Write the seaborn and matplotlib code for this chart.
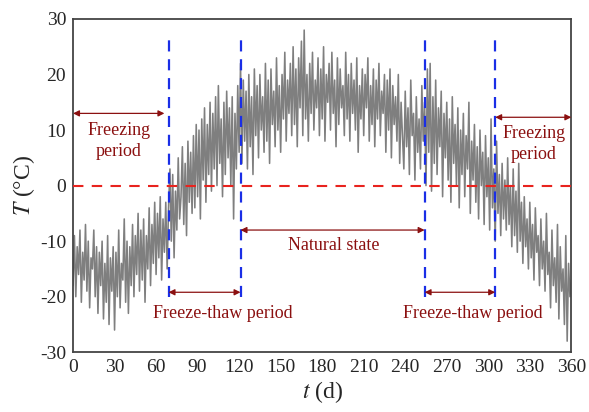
import matplotlib
matplotlib.use("Agg")
import matplotlib.pyplot as plt
import seaborn as sns
import pandas as pd

# daily ground temperature readings (deg C), day 0 .. 360
temp = [
    -18, -9, -20, -11, -16, -8, -21, -12, -17, -7,
    -19, -10, -22, -13, -15, -8, -20, -11, -23, -12,
    -18, -10, -24, -14, -21, -9, -25, -13, -19, -11,
    -26, -12, -20, -8, -22, -14, -17, -6, -21, -10,
    -23, -11, -18, -7, -20, -9, -16, -5, -19, -8,
    -17, -6, -21, -9, -15, -4, -18, -7, -14, -3,
    -16, -5, -13, -2, -17, -6, -12, -3, -15, -4,
    3, -10, 2, -13, -1, -8, 5, -6, -2, 7,
    -7, 4, -9, 8, -3, 6, -5, 9, -4, 11,
    -2, 10, -6, 12, 1, 14, -3, 11, 2, 15,
    -1, 13, 3, 16, 0, 18, 4, 12, -2, 15,
    2, 17, 5, 14, 0, 16, -6, 13, 3, 18,
    6, 22, 4, 19, 8, 17, 3, 20, 7, 16,
    2, 21, 9, 18, 5, 20, 10, 16, 6, 22,
    8, 19, 4, 21, 11, 17, 7, 23, 10, 18,
    6, 20, 12, 24, 8, 19, 13, 22, 9, 25,
    11, 21, 7, 23, 14, 26, 9, 28, 12, 20,
    8, 22, 13, 24, 10, 19, 14, 23, 9, 21,
    12, 25, 8, 20, 15, 22, 10, 24, 13, 19,
    7, 23, 11, 21, 14, 18, 9, 24, 12, 20,
    8, 22, 13, 19, 10, 23, 6, 18, 12, 21,
    9, 20, 14, 23, 8, 18, 11, 21, 7, 19,
    12, 22, 9, 17, 13, 20, 6, 19, 10, 21,
    5, 18, 11, 16, 8, 20, 4, 15, 9, 3,
    17, 7, 14, 2, 19, 9, 13, 1, 16, 6,
    12, 3, 18, 8, 15, 0, 21, 6, 22, -1,
    16, 4, 19, 2, 14, 7, 17, -2, 13, 5,
    15, 1, 12, -3, 16, 4, 11, 0, 14, -4,
    10, 2, 13, -2, 9, 3, 15, -5, 8, 1,
    11, -3, 7, -6, 10, 0, 6, -7, 9, -2,
    5, -8, 12, -4, 3, -10, 8, -5, 2, -9,
    4, -6, 1, -8, 5, -7, 0, -11, 3, -9,
    -1, -12, 4, -10, -3, -14, -2, -11, -6, -15,
    -3, -13, -7, -17, -4, -12, -9, -18, -6, -15,
    -10, -19, -5, -16, -12, -22, -8, -18, -13, -21,
    -7, -24, -11, -19, -15, -25, -9, -28, -14, -20,
    -17,
]
days = list(range(len(temp)))

# period boundaries (d)
boundaries = [69, 121, 254, 305]
period_labels = ["Freezing\nperiod", "Freeze-thaw period", "Natural state",
                 "Freeze-thaw period", "Freezing\nperiod"]

sns.set_style("white")
plt.rcParams["font.family"] = ["Liberation Serif", "DejaVu Serif"]
plt.rcParams["mathtext.fontset"] = "stix"
plt.rcParams["axes.unicode_minus"] = False

df = pd.DataFrame({"day": days, "T": temp})

fig, ax = plt.subplots(figsize=(5.89, 4.12), dpi=100)
sns.lineplot(data=df, x="day", y="T", ax=ax, color="#7f7f7f", linewidth=1.15)

ax.axhline(0, color="#e8231e", linestyle=(0, (5, 4)), linewidth=1.5, zorder=3)
for b in boundaries:
    ax.plot([b, b], [-20, 26.5], color="#1a2ee6", linestyle=(0, (5, 3.5)),
            linewidth=1.6, zorder=3)

dark_red = "#8b1010"
arrow = dict(arrowstyle="<|-|>", color=dark_red, lw=0.9,
             mutation_scale=9, shrinkA=0, shrinkB=0)
txt = dict(color=dark_red, fontsize=13, ha="center", va="center")

ax.annotate("", xy=(0, 13), xytext=(66, 13), arrowprops=arrow)
ax.text(33, 8, period_labels[0], linespacing=1.3, **txt)

ax.annotate("", xy=(boundaries[0], -19.2), xytext=(boundaries[1], -19.2), arrowprops=arrow)
ax.text(108, -23, period_labels[1], **txt)

ax.annotate("", xy=(boundaries[1], -8), xytext=(boundaries[2], -8), arrowprops=arrow)
ax.text(188, -10.8, period_labels[2], **txt)

ax.annotate("", xy=(boundaries[2], -19.2), xytext=(boundaries[3], -19.2), arrowprops=arrow)
ax.text(289, -23, period_labels[3], **txt)

ax.annotate("", xy=(boundaries[3], 12.3), xytext=(360, 12.3), arrowprops=arrow)
ax.text(333, 7.5, period_labels[4], linespacing=1.3, **txt)

ax.set_xlim(0, 360)
ax.set_ylim(-30, 30)
ax.set_xticks(range(0, 361, 30))
ax.set_yticks(range(-30, 31, 10))
ax.tick_params(labelsize=14, length=0, pad=5)
ax.set_xlabel("$t$ (d)", fontsize=17, labelpad=2)
ax.set_ylabel("$T$ (\u00b0C)", fontsize=17, labelpad=2)
for s in ax.spines.values():
    s.set_color("#444444")
    s.set_linewidth(1.3)

fig.subplots_adjust(left=0.124, right=0.97, top=0.954, bottom=0.145)
fig.savefig("out.png", dpi=100)
